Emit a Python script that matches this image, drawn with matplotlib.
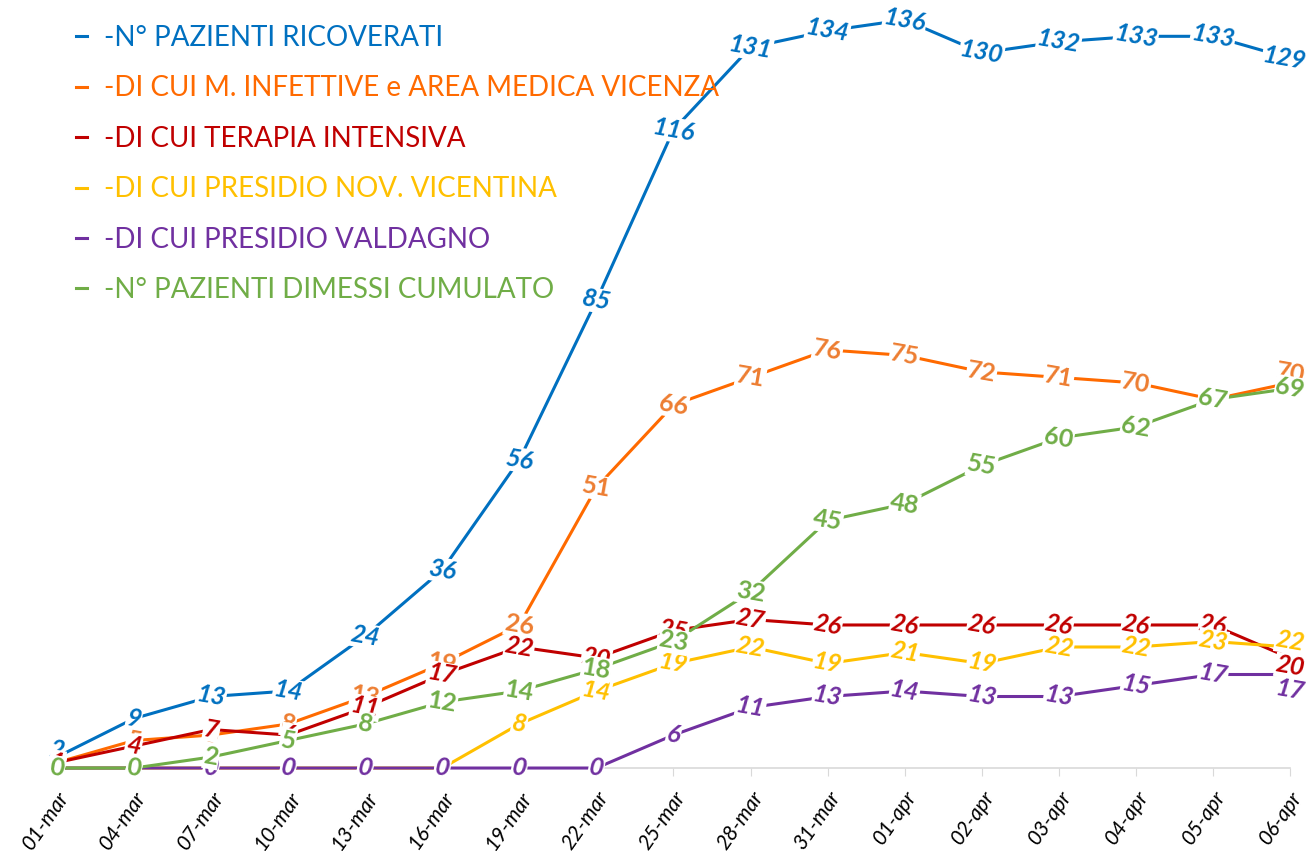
"""Andamento ricoveri - ricostruzione del grafico a linee."""
import matplotlib

matplotlib.use("Agg")
import matplotlib.pyplot as plt  # noqa: E402

dates = ["01-mar", "04-mar", "07-mar", "10-mar", "13-mar", "16-mar", "19-mar",
         "22-mar", "25-mar", "28-mar", "31-mar", "01-apr", "02-apr", "03-apr",
         "04-apr", "05-apr", "06-apr"]

ricoverati = [2, 9, 13, 14, 24, 36, 56, 85, 116, 131, 134, 136, 130, 132, 133, 133, 129]
infettive = [1, 5, 6, 8, 13, 19, 26, 51, 66, 71, 76, 75, 72, 71, 70, 67, 70]
intensiva = [1, 4, 7, 6, 11, 17, 22, 20, 25, 27, 26, 26, 26, 26, 26, 26, 20]
nov_vicentina = [0, 0, 0, 0, 0, 0, 8, 14, 19, 22, 19, 21, 19, 22, 22, 23, 22]
valdagno = [0, 0, 0, 0, 0, 0, 0, 0, 6, 11, 13, 14, 13, 13, 15, 17, 17]
dimessi = [0, 0, 2, 5, 8, 12, 14, 18, 23, 32, 45, 48, 55, 60, 62, 67, 69]

series = [
    ("-N° PAZIENTI RICOVERATI", ricoverati, "#0070c0", "#0070c0", True),
    ("-DI CUI M. INFETTIVE e AREA MEDICA VICENZA", infettive, "#ff6a00", "#ed7d31", False),
    ("-DI CUI TERAPIA INTENSIVA", intensiva, "#c00000", "#c00000", True),
    ("-DI CUI PRESIDIO NOV. VICENTINA", nov_vicentina, "#ffc000", "#ffc000", True),
    ("-DI CUI PRESIDIO VALDAGNO", valdagno, "#7030a0", "#7030a0", True),
    ("-N° PAZIENTI DIMESSI CUMULATO", dimessi, "#70ad47", "#70ad47", False),
]

# hand-moved labels (series idx, point idx) -> offset in points
nudges = {(0, 0): (0, 5), (0, 16): (-4, 0), (1, 16): (0, 7), (2, 16): (0, -6),
          (3, 16): (0, 4), (4, 16): (0, -11)}

plt.rcParams["font.family"] = ["Lato", "DejaVu Sans"]

fig = plt.figure(figsize=(13.09, 8.51), dpi=100)
ax = fig.add_axes([0.0435, 0.0975, 0.942, 0.9025])

x = list(range(len(dates)))
for name, vals, color, lab_color, italic in series:
    ax.plot(x, vals, color=color, lw=2.2, label=name, zorder=3, clip_on=False)

for si, (name, vals, color, lab_color, italic) in enumerate(series):
    for xi, v in zip(x, vals):
        ax.annotate(str(v), (xi, v), xytext=nudges.get((si, xi), (0, 0)),
                    textcoords="offset points", color=lab_color, fontsize=18,
                    fontweight="bold", style="italic" if italic else "normal",
                    rotation=-10, ha="center", va="center", zorder=5,
                    annotation_clip=False, rotation_mode="anchor",
                    bbox=dict(facecolor="white", edgecolor="none", pad=0.5))

ax.set_xlim(0, len(dates) - 1)
ax.set_ylim(0, 139.6)
ax.set_xticks(x)
ax.set_xticklabels(dates, rotation=55, ha="right", rotation_mode="anchor",
                   fontsize=15, style="italic")
ax.tick_params(axis="x", length=6, color="#d9d9d9", pad=8)
ax.set_yticks([])
for side in ("top", "right", "left"):
    ax.spines[side].set_visible(False)
ax.spines["bottom"].set_color("#d9d9d9")
ax.spines["bottom"].set_linewidth(1.2)

leg = ax.legend(loc="upper left", bbox_to_anchor=(-0.005, 1.0), frameon=False,
                fontsize=20, handlelength=0.4, handletextpad=0.6,
                labelspacing=0.88,
                labelcolor=[s[2] for s in series])

fig.savefig("out.png", dpi=100)
